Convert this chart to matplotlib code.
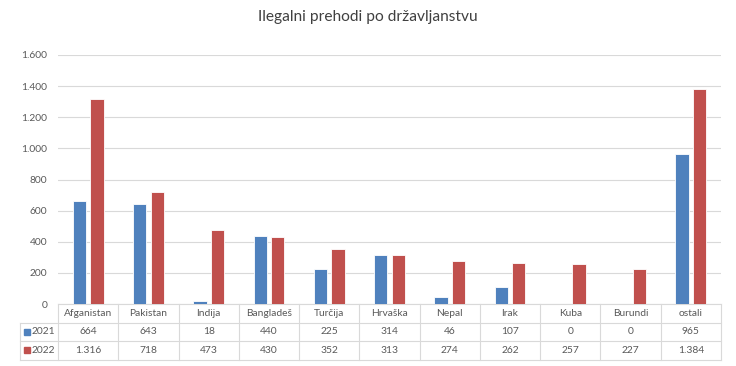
import matplotlib
matplotlib.use('Agg')
import matplotlib.pyplot as plt
from matplotlib.patches import Rectangle
import matplotlib.transforms as mtransforms

# Data
countries = ['Afganistan', 'Pakistan', 'Indija', 'Bangladeš', 'Turčija', 'Hrvaška',
             'Nepal', 'Irak', 'Kuba', 'Burundi', 'ostali']
vals_2021 = [664, 643, 18, 440, 225, 314, 46, 107, 0, 0, 965]
vals_2022 = [1316, 718, 473, 430, 352, 313, 274, 262, 257, 227, 1384]
series_labels = ['2021', '2022']
yticks = [0, 200, 400, 600, 800, 1000, 1200, 1400, 1600]

color_a = '#4F81BD'
color_b = '#C0504D'
grid_c = '#D9D9D9'
text_c = '#595959'

plt.rcParams['font.family'] = ['Lato', 'DejaVu Sans']

W, H = 736, 366
fig = plt.figure(figsize=(W / 100, H / 100), dpi=100)
left, right, top, bottom = 58, 721, 55, 304
ax = fig.add_axes([left / W, 1 - bottom / H, (right - left) / W, (bottom - top) / H])

fmt = lambda v: f'{v:,}'.replace(',', '.')
fs = 7.4

n = len(countries)
x = list(range(n))
width = 0.22
gap = 0.035
ax.bar([xi - width / 2 - gap for xi in x], vals_2021, width, color=color_a,
       edgecolor='white', linewidth=0.6, zorder=3)
ax.bar([xi + width / 2 + gap for xi in x], vals_2022, width, color=color_b,
       edgecolor='white', linewidth=0.6, zorder=3)

ax.set_xlim(-0.5, n - 0.5)
ax.set_ylim(0, 1600)
ax.set_yticks(yticks)
ax.set_yticklabels([fmt(v) for v in yticks], fontsize=fs, color=text_c)
ax.tick_params(axis='y', length=0, pad=7.5)
ax.set_xticks([])
for s in ax.spines.values():
    s.set_visible(False)
ax.grid(axis='y', color=grid_c, linewidth=0.8, zorder=0)

fig.text(0.5, 1 - 17 / H, 'Ilegalni prehodi po državljanstvu', ha='center', va='center',
         fontsize=11.2, color='#404040')

# Data table below the axes
trans = mtransforms.blended_transform_factory(ax.transData, ax.transAxes)
ph = bottom - top
row_h = 18.5 / ph
leg_left = -0.5 - (left - 20) / (right - left) * n
rows_y = [0, -row_h, -2 * row_h, -3 * row_h]

lw = 0.8
# horizontal lines
ax.plot([-0.5, n - 0.5], [0, 0], color=grid_c, lw=lw, transform=trans, clip_on=False)
for yy in rows_y[1:]:
    ax.plot([leg_left, n - 0.5], [yy, yy], color=grid_c, lw=lw, transform=trans, clip_on=False)
# vertical lines
for i in range(n + 1):
    ax.plot([i - 0.5, i - 0.5], [0, rows_y[-1]], color=grid_c, lw=lw, transform=trans, clip_on=False)
ax.plot([leg_left, leg_left], [rows_y[1], rows_y[-1]], color=grid_c, lw=lw, transform=trans, clip_on=False)

for i, c in enumerate(countries):
    ax.text(i, -row_h / 2, c, ha='center', va='center', fontsize=fs, color=text_c,
            transform=trans, clip_on=False)
    ax.text(i, -1.5 * row_h, fmt(vals_2021[i]), ha='center', va='center', fontsize=fs,
            color=text_c, transform=trans, clip_on=False)
    ax.text(i, -2.5 * row_h, fmt(vals_2022[i]), ha='center', va='center', fontsize=fs,
            color=text_c, transform=trans, clip_on=False)

# legend keys in table
for r, (lab, col) in enumerate(zip(series_labels, [color_a, color_b])):
    yc = 1 - (bottom + 18.5 * (r + 1.5)) / H
    sq = 6
    fig.patches.append(Rectangle((24 / W, yc - sq / 2 / H), sq / W, sq / H,
                                 transform=fig.transFigure, color=col))
    fig.text(32 / W, yc, lab, ha='left', va='center', fontsize=fs, color=text_c)

fig.savefig('out.png', dpi=100)
